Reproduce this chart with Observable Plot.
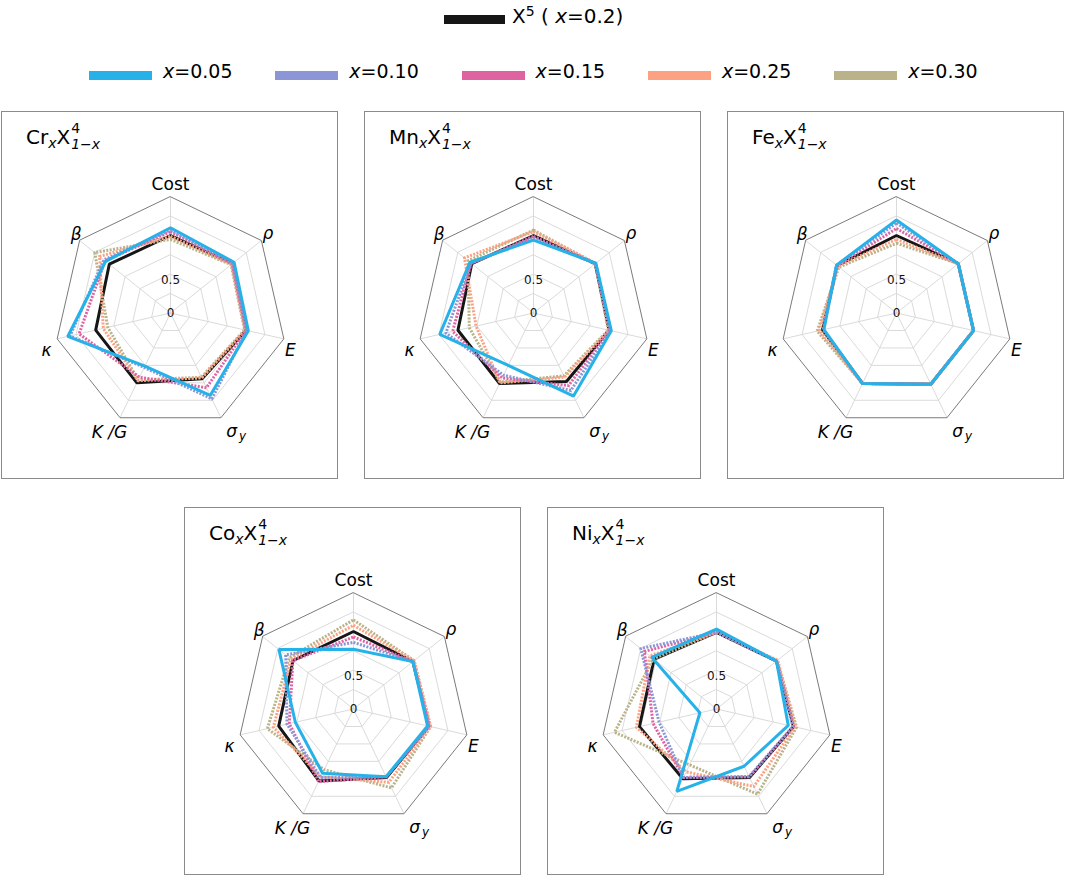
<!DOCTYPE html>
<html><head><meta charset="utf-8">
<script src="https://cdn.jsdelivr.net/npm/d3@7"></script>
<script src="https://cdn.jsdelivr.net/npm/@observablehq/plot@0.6"></script>
<style>
body{margin:0;background:#fff;font-family:"DejaVu Sans",sans-serif;color:#000;}
#root{position:relative;width:1065px;height:878px;overflow:hidden;}
.panel{position:absolute;border:1px solid #8a8a8a;box-sizing:border-box;}
.panel svg{position:absolute;left:0;top:0;}
.title{position:absolute;left:24px;top:8px;font-size:20px;line-height:22px;white-space:nowrap;z-index:2;}
.title sub{font-size:14px;vertical-align:-4px;line-height:0;}
.ss{display:inline-block;vertical-align:-5px;font-size:14px;line-height:16px;margin-left:1px;}
.ss span{display:block;}
.sw{position:absolute;height:9px;}
.lt{position:absolute;white-space:nowrap;}
.lt sup{font-size:14px;line-height:0;vertical-align:7px;}
</style>
</head><body><div id="root"></div>
<script>
// ---------- data ----------
const axes = ["Cost", "ρ", "E", "σ", "K /G", "κ", "β"];
const axisSub = ["", "", "", "y", "", "", ""];
const seriesNames = ["X5", "x=0.05", "x=0.10", "x=0.15", "x=0.25", "x=0.30"];
const seriesColors = ["#161616", "#26b2e8", "#8c96d6", "#e063a1", "#fca283", "#bab389"];
const elements = ["Cr", "Mn", "Fe", "Co", "Ni"];
const ringTicks = [0.25, 0.5, 0.75, 1.0, 1.25];
const rMax = 1.5;
const radialLabels = [0, 0.5];

// values per panel: rows = series (X5, 0.05, 0.10, 0.15, 0.25, 0.30); cols = axes
const Cr = [
  [1.00, 1.02, 1.00, 0.94, 1.00, 0.99, 1.01],
  [1.10, 1.05, 1.03, 1.18, 0.76, 1.36, 1.07],
  [1.07, 1.03, 1.01, 1.23, 0.78, 1.33, 1.10],
  [1.05, 1.02, 1.00, 1.07, 0.92, 1.21, 1.08],
  [0.99, 1.01, 0.99, 0.93, 0.97, 0.89, 1.17],
  [0.95, 1.00, 0.98, 0.92, 0.96, 0.83, 1.25]
];
const Mn = [
  [1.00, 1.02, 1.00, 0.98, 1.01, 1.00, 1.02],
  [0.94, 1.03, 1.03, 1.19, 0.75, 1.24, 1.05],
  [0.97, 1.02, 1.02, 1.11, 0.89, 1.16, 1.03],
  [0.99, 1.02, 1.01, 1.04, 0.93, 1.07, 1.03],
  [1.05, 1.03, 1.00, 0.92, 1.00, 0.76, 1.14],
  [1.07, 1.02, 0.99, 0.90, 0.99, 0.85, 1.08]
];
const Fe = [
  [1.00, 1.02, 1.02, 1.02, 1.01, 0.98, 0.98],
  [1.20, 1.02, 1.02, 1.02, 1.01, 0.96, 0.99],
  [1.16, 1.02, 1.02, 1.02, 1.01, 0.97, 0.99],
  [1.09, 1.02, 1.02, 1.02, 1.01, 0.97, 0.98],
  [0.95, 1.02, 1.02, 1.02, 1.01, 1.02, 0.97],
  [0.90, 1.02, 1.02, 1.02, 1.01, 1.05, 0.95]
];
const Co = [
  [1.00, 0.98, 1.00, 0.98, 1.03, 0.99, 1.00],
  [0.77, 0.98, 0.98, 0.97, 0.92, 0.77, 1.23],
  [0.86, 0.98, 1.00, 0.97, 0.98, 0.88, 1.12],
  [0.93, 0.98, 1.00, 0.97, 1.04, 0.85, 1.00],
  [1.08, 1.00, 1.02, 1.05, 0.97, 1.06, 1.03],
  [1.15, 1.00, 1.02, 1.13, 0.87, 1.14, 1.06]
];
const Ni = [
  [0.99, 0.99, 1.02, 0.98, 1.00, 1.02, 1.03],
  [1.03, 0.99, 0.95, 0.82, 1.18, 0.22, 1.07],
  [0.99, 0.99, 1.01, 0.97, 0.98, 0.76, 1.25],
  [0.99, 0.99, 1.02, 0.97, 0.98, 0.84, 1.19],
  [0.99, 1.01, 1.04, 1.11, 0.90, 1.06, 1.10],
  [0.99, 1.00, 1.06, 1.22, 0.80, 1.35, 1.04]
];
const panelValues = [Cr, Mn, Fe, Co, Ni];

// ---------- layout ----------
const root = document.getElementById("root");
const boxes = [[1, 111], [364, 111], [727, 111], [184, 507], [547, 507]];
const BW = 337, BH = 368;
const S = 77.5;            // px per unit
const CX = 168, CY = 200.5; // radar centre inside svg
const labelDx = [0, -2, -4, 6, -6, 0, 5];
const labelDy = [-1, 0, 9, 4, 5, 9, 1];

function el(tag, cls, style, html) {
  const e = document.createElement(tag);
  if (cls) e.className = cls;
  if (style) e.setAttribute("style", style);
  if (html != null) e.innerHTML = html;
  return e;
}

// legend
root.appendChild(el("div", "sw", `left:444px;top:15px;width:61px;background:${seriesColors[0]}`));
root.appendChild(el("div", "lt", "left:512px;top:6px;font-size:20px;line-height:20px", "X<sup>5</sup> ( <i>x</i>=0.2)"));
seriesNames.slice(1).forEach((name, k) => {
  const left = 89 + k * 186.3;
  root.appendChild(el("div", "sw", `left:${left}px;top:71px;width:63px;background:${seriesColors[k + 1]}`));
  root.appendChild(el("div", "lt", `left:${left + 74}px;top:62px;font-size:19px;line-height:19px`,
    `<i>x</i>${name.slice(1)}`));
});

const ang = i => i * 2 * Math.PI / axes.length;
const pt = (v, i) => ({x: v * Math.sin(ang(i)), y: v * Math.cos(ang(i))});
const dotted = "2,1.4";

function radar(values) {
  const rings = ringTicks.flatMap(r => axes.map((a, i) => ({r, ...pt(r, i)})));
  const frame = axes.map((a, i) => pt(rMax, i));
  const labels = axes.map((a, i) => ({a, i, ...pt(1.64, i)}));
  const order = [0, 5, 4, 3, 2, 1];
  const seriesMarks = order.map(s => {
    const solid = s === 0 || s === 1;
    return Plot.line(values[s].map((v, i) => pt(v, i)), {
      x: "x", y: "y", curve: "linear-closed",
      stroke: seriesColors[s], strokeWidth: 3,
      strokeDasharray: solid ? undefined : dotted,
      strokeLinecap: "butt",
      strokeLinejoin: solid ? "miter" : "round"
    });
  });
  const subMarks = labels.filter(d => axisSub[d.i]).map(d =>
    Plot.text([d], {x: "x", y: "y", text: () => axisSub[d.i], fontSize: 12, fontStyle: "italic",
      fill: "#000", dx: labelDx[d.i] + 11, dy: labelDy[d.i] + 5}));
  return Plot.plot({
    width: BW - 2, height: BH - 2, margin: 0,
    style: {fontFamily: "DejaVu Sans", background: "transparent"},
    x: {type: "linear", domain: [-1, 1], range: [CX - S, CX + S], axis: null},
    y: {type: "linear", domain: [-1, 1], range: [CY + S, CY - S], axis: null},
    marks: [
      Plot.line(rings, {x: "x", y: "y", z: "r", curve: "linear-closed", stroke: "#d6d6d6", strokeWidth: 0.9}),
      Plot.link(frame, {x1: () => 0, y1: () => 0, x2: "x", y2: "y", stroke: "#d6d6d6", strokeWidth: 0.9}),
      Plot.line(frame, {x: "x", y: "y", curve: "linear-closed", stroke: "#7a7a7a", strokeWidth: 1}),
      ...seriesMarks,
      Plot.text(radialLabels.filter(d => d === 0), {x: () => 0, y: d => d, text: d => String(d), fontSize: 12, fill: "#111", dy: 0}),
      Plot.text(radialLabels.filter(d => d !== 0), {x: () => 0, y: d => d, text: d => String(d), fontSize: 12, fill: "#111", dy: 5.5}),
      ...labels.map(d => Plot.text([d], {x: "x", y: "y", text: "a", fontSize: 17,
        fontStyle: d.i === 0 ? "normal" : "italic", fill: "#000", dx: labelDx[d.i], dy: labelDy[d.i]})),
      ...subMarks
    ]
  });
}

elements.forEach((name, p) => {
  const [left, top] = boxes[p];
  const box = el("div", "panel", `left:${left}px;top:${top}px;width:${BW}px;height:${BH}px`);
  box.appendChild(el("div", "title", null,
    `${name}<sub><i>x</i></sub>X<span class="ss"><span>4</span><span><i>1−x</i></span></span>`));
  box.appendChild(radar(panelValues[p]));
  root.appendChild(box);
});
</script>
</body></html>
